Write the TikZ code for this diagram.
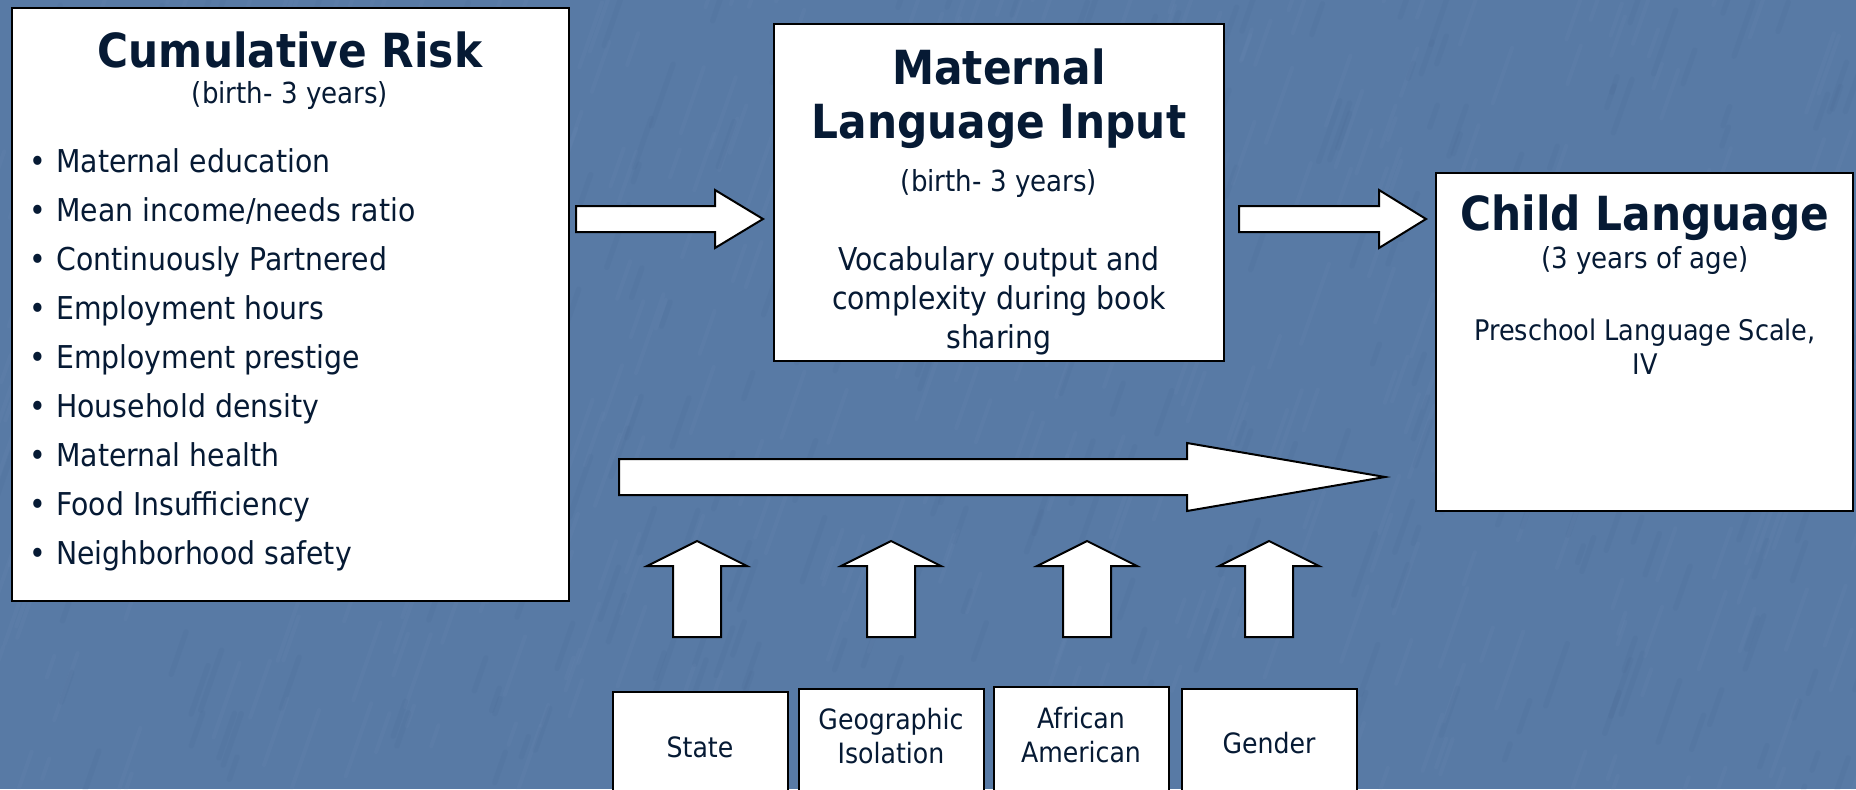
\documentclass[tikz,border=0pt]{standalone}
\usepackage{fontspec}
\setmainfont{DejaVu Sans Condensed}
\usetikzlibrary{fit}
\definecolor{bg}{RGB}{88,122,165}
\definecolor{bglight}{RGB}{140,170,205}
\definecolor{bgdark}{RGB}{60,92,135}
\definecolor{ink}{RGB}{6,26,52}

% block arrow pointing right: x start, head start, tip, centre y, half shaft, half head
\newcommand\blockright[6]{%
  \draw[barrow] (#1,#4-#5) -- (#2,#4-#5) -- (#2,#4-#6) -- (#3,#4)
    -- (#2,#4+#6) -- (#2,#4+#5) -- (#1,#4+#5) -- cycle;}
% block arrow pointing up: centre x, tip y, head base y, bottom y, half shaft, half head
\newcommand\blockup[6]{%
  \draw[barrow] (#1-#5,#4) -- (#1-#5,#3) -- (#1-#6,#3) -- (#1,#2)
    -- (#1+#6,#3) -- (#1+#5,#3) -- (#1+#5,#4) -- cycle;}

\begin{document}
\begin{tikzpicture}[x=0.75pt,y=-0.75pt,
  box/.style={draw=black,fill=white,line width=1.7pt,inner sep=0pt},
  barrow/.style={draw=black,fill=white,line width=1.5pt,line join=miter},
  txt/.style={text=ink,inner sep=0pt,anchor=base},
  headline/.style={txt,font=\fontsize{35.25}{40}\selectfont\bfseries},
  subline/.style={txt,font=\fontsize{21.75}{26}\selectfont},
  bodyline/.style={txt,font=\fontsize{23.6}{28}\selectfont},
  smallline/.style={txt,font=\fontsize{21.3}{26}\selectfont},
  tagline/.style={txt,font=\fontsize{21}{25}\selectfont},
  bullet/.style={txt,anchor=base west,font=\fontsize{23.6}{28}\selectfont}]

\useasboundingbox (0,0) rectangle (1856,789);
\clip (0,0) rectangle (1856,789);

% textured blue backdrop: soft diagonal mottling
\fill[bg] (0,0) rectangle (1856,789);
\pgfmathsetseed{11}
\foreach \i in {1,...,450}{
  \pgfmathsetmacro\px{rnd*1900-20}
  \pgfmathsetmacro\py{rnd*820}
  \pgfmathsetmacro\len{20+rnd*60}
  \draw[bglight,opacity=0.06,line width=3pt,line cap=round]
    (\px,\py) -- ++(0.35*\len,-\len);
}
\foreach \i in {1,...,300}{
  \pgfmathsetmacro\px{rnd*1900-20}
  \pgfmathsetmacro\py{rnd*820}
  \pgfmathsetmacro\len{15+rnd*50}
  \draw[bgdark,opacity=0.08,line width=4pt,line cap=round]
    (\px,\py) -- ++(0.35*\len,-\len);
}

% main boxes
\node[box,fit={(12,8) (569,601)}] (risk) {};
\node[box,fit={(774,24) (1224,361)}] (input) {};
\node[box,fit={(1436,173) (1853,511)}] (child) {};

% covariate boxes along the bottom
\node[box,fit={(613,692) (788,800)}] (state) {};
\node[box,fit={(799,689) (984,800)}] (geo) {};
\node[box,fit={(994,687) (1169,800)}] (afam) {};
\node[box,fit={(1182,689) (1357,800)}] (gender) {};

% cumulative risk
\node[headline] (riskT) at (290,67) {Cumulative Risk};
\node[subline] (riskS) at (290,103) {(birth- 3 years)};
\foreach \t [count=\k from 0] in {Maternal education,Mean income/needs ratio,
    Continuously Partnered,Employment hours,Employment prestige,
    Household density,Maternal health,Food Insufficiency,Neighborhood safety}{
  \node[bullet] (riskB\k) at (29,172+\k*49) {•};
  \node[bullet] (riskI\k) at (56,172+\k*49) {\t};
}

% maternal language input
\node[headline] (inputT1) at (999,84) {Maternal};
\node[headline] (inputT2) at (999,138) {Language Input};
\node[subline] (inputS) at (999,191) {(birth- 3 years)};
\node[bodyline] (inputL1) at (999,270) {Vocabulary output and};
\node[bodyline] (inputL2) at (999,309) {complexity during book};
\node[bodyline] (inputL3) at (999,348) {sharing};

% child language
\node[headline] (childT) at (1645,230) {Child Language};
\node[subline] (childS) at (1645,268) {(3 years of age)};
\node[smallline] (childL1) at (1645,340) {Preschool Language Scale,};
\node[smallline] (childL2) at (1645,374) {IV};

% covariate labels
\node[tagline] (stateT) at (700,757) {State};
\node[tagline] (geoT1) at (891,729) {Geographic};
\node[tagline] (geoT2) at (891,763) {Isolation};
\node[tagline] (afamT1) at (1081,728) {African};
\node[tagline] (afamT2) at (1081,762) {American};
\node[tagline] (genderT) at (1269,753) {Gender};

% block arrows
\blockright{576}{715}{763}{219}{13}{29}
\blockright{1239}{1379}{1426}{219}{13}{29}
\blockright{619}{1187}{1385}{477}{18}{34}
\blockup{697}{541}{566}{637}{24}{50}
\blockup{891}{541}{566}{637}{24}{50}
\blockup{1087}{541}{566}{637}{24}{50}
\blockup{1269}{541}{566}{637}{24}{50}

\end{tikzpicture}
\end{document}
